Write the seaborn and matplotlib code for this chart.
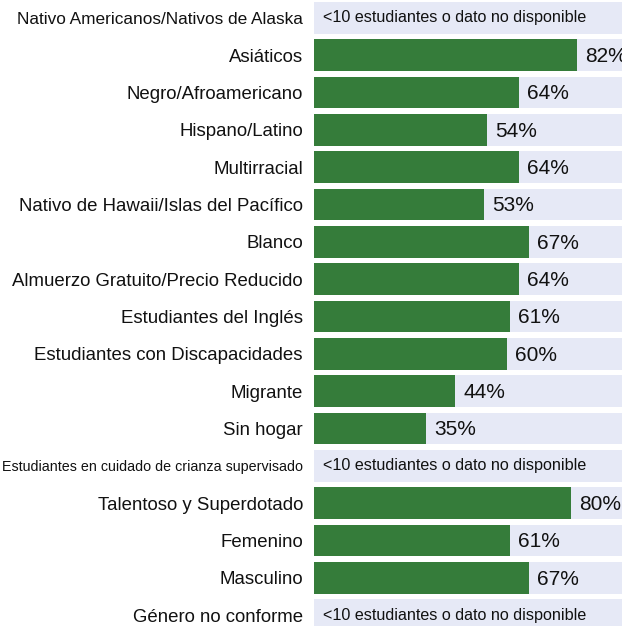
import matplotlib
matplotlib.use('Agg')
import matplotlib.pyplot as plt
import seaborn as sns
import numpy as np
import pandas as pd

categories = [
    "Nativo Americanos/Nativos de Alaska",
    "Asiáticos",
    "Negro/Afroamericano",
    "Hispano/Latino",
    "Multirracial",
    "Nativo de Hawaii/Islas del Pacífico",
    "Blanco",
    "Almuerzo Gratuito/Precio Reducido",
    "Estudiantes del Inglés",
    "Estudiantes con Discapacidades",
    "Migrante",
    "Sin hogar",
    "Estudiantes en cuidado de crianza supervisado",
    "Talentoso y Superdotado",
    "Femenino",
    "Masculino",
    "Género no conforme",
]
values = [np.nan, 82, 64, 54, 64, 53, 67, 64, 61, 60, 44, 35, np.nan, 80, 61, 67, np.nan]
full_scale = [100] * len(categories)
missing_text = "<10 estudiantes o dato no disponible"

GREEN = "#357C3A"
BG = "#E6E9F6"
TXT = "#111111"

sns.set_theme(style="white")
plt.rcParams['font.family'] = ['Liberation Sans', 'DejaVu Sans']

df = pd.DataFrame({"cat": categories, "val": values, "full": full_scale})

fig = plt.figure(figsize=(6.22, 6.26), dpi=100)
ax = fig.add_axes([314 / 622, 0, 308 / 622, 1])

sns.barplot(data=df, y="cat", x="full", order=categories, color=BG,
            saturation=1, width=0.845, ax=ax, orient="h", linewidth=0)
sns.barplot(data=df, y="cat", x="val", order=categories, color=GREEN,
            saturation=1, width=0.845, ax=ax, orient="h", linewidth=0)

for i, v in enumerate(values):
    if np.isnan(v):
        ax.text(2.7, i, missing_text, va="center", ha="left", fontsize=11.6, color=TXT)
    else:
        ax.text(v + 2.5, i + 0.04, f"{v:.0f}%", va="center", ha="left", fontsize=15, color=TXT)

ax.set_xlim(0, 96)
ax.set_ylim(16.292, -0.477)
ax.set_xlabel("")
ax.set_ylabel("")
ax.set_xticks([])
ax.tick_params(axis="y", length=0, pad=8, labelsize=13.4, labelcolor=TXT)
for lab in ax.get_yticklabels():
    t = lab.get_text()
    if t.startswith("Nativo Americanos"):
        lab.set_fontsize(12.4)
    elif t.startswith("Estudiantes en cuidado"):
        lab.set_fontsize(10.3)
for s in ax.spines.values():
    s.set_visible(False)
ax.set_facecolor("white")

fig.savefig("out.png", dpi=100)
